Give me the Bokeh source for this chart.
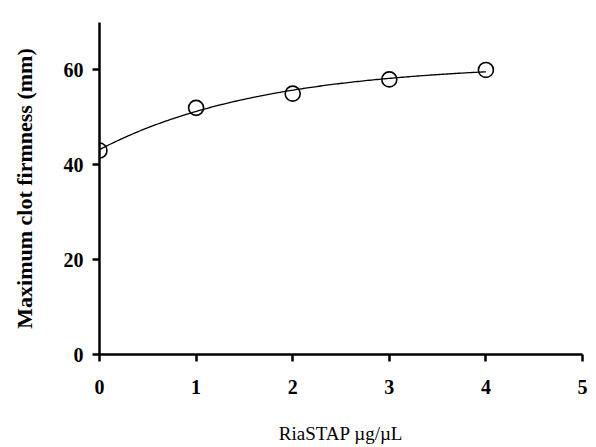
import numpy as np
from bokeh.plotting import figure
from bokeh.models import Range1d, FixedTicker, ColumnDataSource
from bokeh.embed import file_html
from bokeh.resources import INLINE

# RiaSTAP dose (µg/µL) vs maximum clot firmness (mm)
dose = [0, 1, 2, 3, 4]
mcf = [43, 52, 55, 58, 60]

x_ticks = [0, 1, 2, 3, 4, 5]
y_ticks = [0, 20, 40, 60]

# One-phase association fit: y = a + b * exp(-k x)
xd = np.array(dose, dtype=float)
yd = np.array(mcf, dtype=float)
best = None
for k in np.linspace(0.01, 3.0, 3000):
    A = np.column_stack([np.ones_like(xd), np.exp(-k * xd)])
    coef, *_ = np.linalg.lstsq(A, yd, rcond=None)
    err = np.sum((A @ coef - yd) ** 2)
    if best is None or err < best[0]:
        best = (err, k, coef)
_, k_fit, (a_fit, b_fit) = best
xs = np.linspace(min(dose), max(dose), 200)
ys = a_fit + b_fit * np.exp(-k_fit * xs)

p = figure(width=596, height=447, output_backend="svg", toolbar_location=None,
           x_range=Range1d(0, 5), y_range=Range1d(0, 70),
           min_border_left=99, min_border_right=14, min_border_top=22,
           min_border_bottom=93)
p.outline_line_color = None
p.grid.visible = False
p.background_fill_color = "white"
p.border_fill_color = "white"

p.line(xs, ys, line_color="black", line_width=1.3)
src = ColumnDataSource(dict(x=dose, y=mcf))
p.scatter("x", "y", source=src, marker="circle", size=15, fill_color=None,
          line_color="black", line_width=1.6)

for ax in (p.xaxis[0], p.yaxis[0]):
    ax.axis_line_width = 2.5
    ax.major_tick_line_width = 2.5
    ax.major_tick_out = 7
    ax.major_tick_in = 0
    ax.minor_tick_line_color = None
    ax.major_label_text_font = "Liberation Serif"
    ax.major_label_text_font_style = "bold"
    ax.major_label_text_font_size = "20px"
    ax.major_label_text_color = "black"
    ax.axis_line_color = "black"
    ax.major_tick_line_color = "black"
    ax.axis_label_text_font = "Liberation Serif"
    ax.axis_label_text_color = "black"

p.xaxis[0].ticker = FixedTicker(ticks=x_ticks)
p.yaxis[0].ticker = FixedTicker(ticks=y_ticks)
p.xaxis[0].major_label_standoff = 18
p.yaxis[0].major_label_standoff = 9

p.xaxis[0].axis_label = "RiaSTAP µg/µL"
p.xaxis[0].axis_label_text_font_style = "normal"
p.xaxis[0].axis_label_text_font_size = "19px"
p.xaxis[0].axis_label_standoff = 26

p.yaxis[0].axis_label = "Maximum clot firmness (mm)"
p.yaxis[0].axis_label_text_font_style = "bold"
p.yaxis[0].axis_label_text_font_size = "22px"
p.yaxis[0].axis_label_standoff = 24

open("out.html", "w").write(file_html(p, INLINE))
